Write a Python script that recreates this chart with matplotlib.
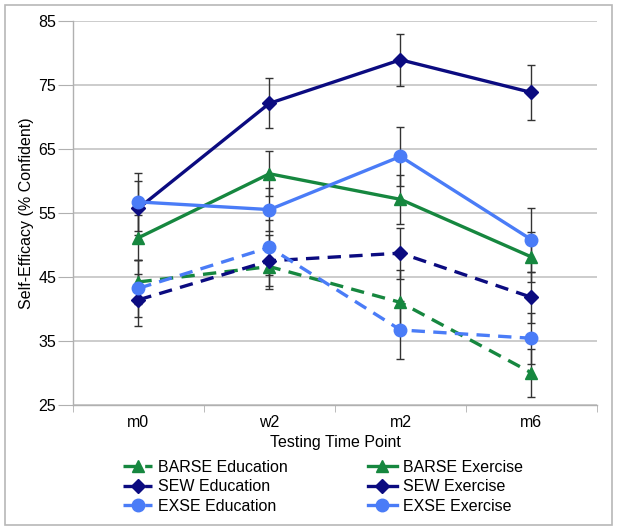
import numpy as np
import matplotlib.pyplot as plt
from matplotlib.patches import Rectangle

plt.rcParams['font.family'] = ['Liberation Sans', 'DejaVu Sans']

# Data
time_points = ["m0", "w2", "m2", "m6"]

barse_edu = [44.2, 46.6, 41.0, 30.0]
barse_edu_err = [3.5, 3.5, 5.0, 3.8]
sew_edu = [41.4, 47.5, 48.7, 41.8]
sew_edu_err = [4.1, 4.0, 4.0, 4.0]
exse_edu = [43.2, 49.6, 36.7, 35.4]
exse_edu_err = [4.5, 4.3, 4.5, 4.0]

barse_ex = [51.1, 61.1, 57.1, 48.1]
barse_ex_err = [3.5, 3.5, 3.8, 3.9]
sew_ex = [55.7, 72.1, 78.9, 73.8]
sew_ex_err = [4.2, 3.9, 4.1, 4.3]
exse_ex = [56.7, 55.5, 63.8, 50.8]
exse_ex_err = [4.5, 3.3, 4.6, 5.0]

green = '#16873f'
navy = '#0b0b80'
blue = '#4a7cf7'

fig = plt.figure(figsize=(6.18, 5.32), dpi=100)
ax = fig.add_axes([0.118, 0.239, 0.848, 0.722])

x = np.arange(len(time_points))

series = [
    ("BARSE Education", barse_edu, barse_edu_err, green, '^', '--'),
    ("SEW Education", sew_edu, sew_edu_err, navy, 'D', '--'),
    ("EXSE Education", exse_edu, exse_edu_err, blue, 'o', '--'),
    ("BARSE Exercise", barse_ex, barse_ex_err, green, '^', '-'),
    ("SEW Exercise", sew_ex, sew_ex_err, navy, 'D', '-'),
    ("EXSE Exercise", exse_ex, exse_ex_err, blue, 'o', '-'),
]

# error bars first, behind the lines
for name, vals, err, col, mk, ls in series:
    ax.errorbar(x, vals, yerr=err, fmt='none', ecolor='#333333',
                elinewidth=1.0, capsize=3, capthick=1.0, zorder=2)

handles = []
for name, vals, err, col, mk, ls in series:
    ms = 9 if mk == 'o' else (7 if mk == 'D' else 8)
    line, = ax.plot(x, vals, color=col, linestyle=ls, linewidth=2.4,
                    marker=mk, markersize=ms, markeredgecolor=col,
                    label=name, zorder=3,
                    dashes=(4, 2.5) if ls == '--' else (None, None))
    handles.append(line)

ax.set_xlim(-0.5, 3.5)
ax.set_ylim(25, 85)
ax.set_yticks([25, 35, 45, 55, 65, 75, 85])
ax.set_xticks(x)
ax.set_xticklabels(time_points)
ax.set_xticks([-0.5, 0.5, 1.5, 2.5, 3.5], minor=True)

ax.yaxis.grid(True, color='#c4c4c4', linewidth=1.2)
ax.set_axisbelow(True)
for side in ['top', 'right']:
    ax.spines[side].set_visible(False)
for side in ['left', 'bottom']:
    ax.spines[side].set_color('#b0b0b0')
    ax.spines[side].set_linewidth(1.0)

ax.tick_params(axis='y', length=11, color='#b0b0b0', labelsize=11.5, pad=1)
ax.tick_params(axis='x', which='major', length=0, labelsize=11.5, pad=7)
ax.tick_params(axis='x', which='minor', length=5, color='#b0b0b0', direction='out')

ax.set_xlabel("Testing Time Point", fontsize=11.5, labelpad=4)
ax.set_ylabel("Self-Efficacy (% Confident)", fontsize=11.5, labelpad=3)

fig.legend(handles=handles, loc='center', bbox_to_anchor=(0.523, 0.085),
           ncol=2, frameon=False, fontsize=11.5, handlelength=1.8,
           columnspacing=5.0, labelspacing=0.28, handletextpad=0.4)

fig.patches.append(Rectangle((0.008, 0.013), 0.982, 0.977, transform=fig.transFigure,
                             fill=False, edgecolor='#b8b8b8', linewidth=1.2))

fig.savefig('out.png', dpi=100)
